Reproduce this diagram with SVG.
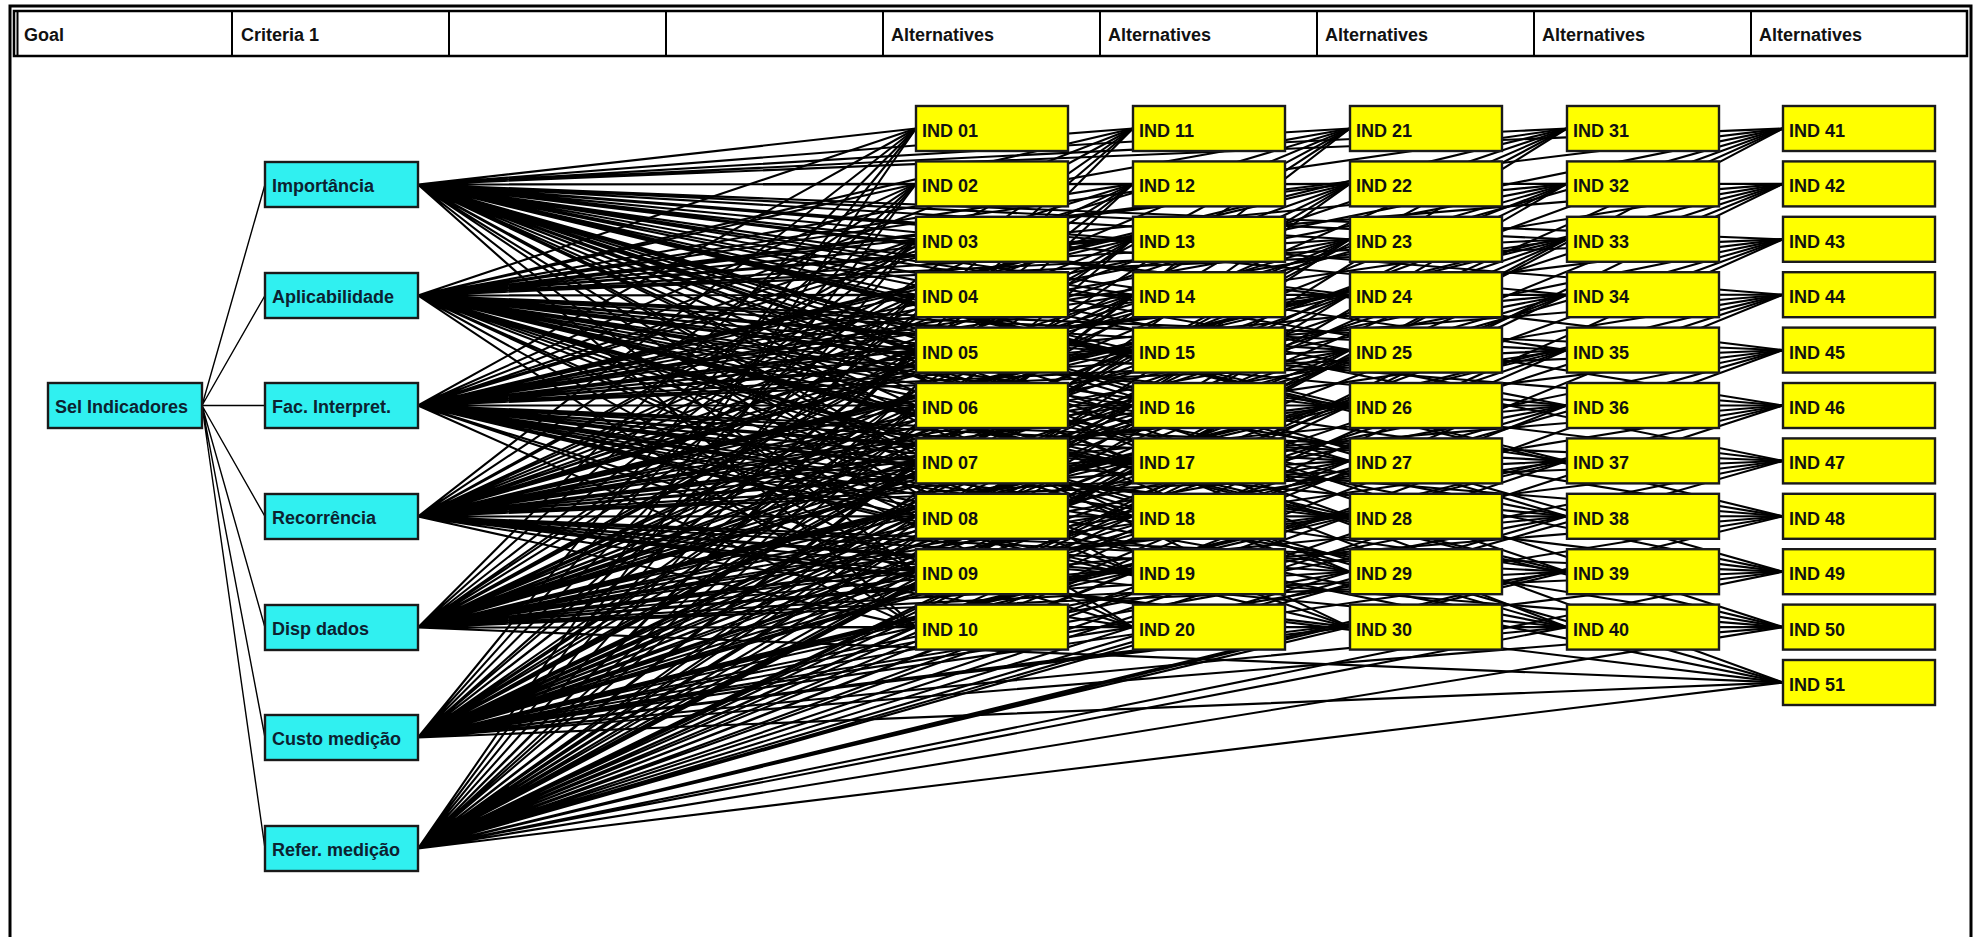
<svg xmlns="http://www.w3.org/2000/svg" width="1975" height="937" viewBox="0 0 1975 937">
<style>
.hdr{font-family:"Liberation Sans",Arial,sans-serif;font-weight:bold;font-size:18px;fill:#111}
.t{font-family:"Liberation Sans",Arial,sans-serif;font-weight:bold;font-size:18px;fill:#111}
.goal .t,.crit .t{fill:#0c2230}
.crit rect,.goal rect{fill:#30f0f0;stroke:#1a1a1a;stroke-width:2.4}
.alt rect{fill:#ffff00;stroke:#1a1a1a;stroke-width:2.4}
.edges path{fill:none;stroke:#000;stroke-width:2.1}
</style>
<rect width="1975" height="937" fill="#fff"/>
<!-- frame -->
<g id="frame" fill="none" stroke="#000">
<path d="M10 960V6H1971V960" stroke-width="3"/>
<rect x="14" y="11" width="1953" height="45" stroke-width="2.5"/>
<path d="M17.5 11V56M232 11V56M449 11V56M666 11V56M883 11V56M1100 11V56M1317 11V56M1534 11V56M1751 11V56" stroke-width="2"/>
</g>
<g id="header">
<text class="hdr" x="24" y="41">Goal</text>
<text class="hdr" x="241" y="41">Criteria 1</text>
<text class="hdr" x="891" y="41">Alternatives</text>
<text class="hdr" x="1108" y="41">Alternatives</text>
<text class="hdr" x="1325" y="41">Alternatives</text>
<text class="hdr" x="1542" y="41">Alternatives</text>
<text class="hdr" x="1759" y="41">Alternatives</text>
</g>
<g id="connectors" class="edges">
<path d="M202 405.5L265 184.5M202 405.5L265 295.5M202 405.5L265 405.5M202 405.5L265 516.5M202 405.5L265 627.5M202 405.5L265 737.5M202 405.5L265 848.5" style="stroke-width:1.4"/>
<path d="M418 184.5L916 128.5M418 184.5L916 183.9M418 184.5L916 239.3M418 184.5L916 294.7M418 184.5L916 350.1M418 184.5L916 405.5M418 184.5L916 460.9M418 184.5L916 516.3M418 184.5L916 571.7M418 184.5L916 627.1M418 184.5L1133 128.5M418 184.5L1133 183.9M418 184.5L1133 239.3M418 184.5L1133 294.7M418 184.5L1133 350.1M418 184.5L1133 405.5M418 184.5L1133 460.9M418 184.5L1133 516.3M418 184.5L1133 571.7M418 184.5L1133 627.1M418 184.5L1350 128.5M418 184.5L1350 183.9M418 184.5L1350 239.3M418 184.5L1350 294.7M418 184.5L1350 350.1M418 184.5L1350 405.5M418 184.5L1350 460.9M418 184.5L1350 516.3M418 184.5L1350 571.7M418 184.5L1350 627.1M418 184.5L1567 128.5M418 184.5L1567 183.9M418 184.5L1567 239.3M418 184.5L1567 294.7M418 184.5L1567 350.1M418 184.5L1567 405.5M418 184.5L1567 460.9M418 184.5L1567 516.3M418 184.5L1567 571.7M418 184.5L1567 627.1M418 184.5L1783 128.5M418 184.5L1783 183.9M418 184.5L1783 239.3M418 184.5L1783 294.7M418 184.5L1783 350.1M418 184.5L1783 405.5M418 184.5L1783 460.9M418 184.5L1783 516.3M418 184.5L1783 571.7M418 184.5L1783 627.1M418 184.5L1783 682.5"/>
<path d="M418 295.5L916 128.5M418 295.5L916 183.9M418 295.5L916 239.3M418 295.5L916 294.7M418 295.5L916 350.1M418 295.5L916 405.5M418 295.5L916 460.9M418 295.5L916 516.3M418 295.5L916 571.7M418 295.5L916 627.1M418 295.5L1133 128.5M418 295.5L1133 183.9M418 295.5L1133 239.3M418 295.5L1133 294.7M418 295.5L1133 350.1M418 295.5L1133 405.5M418 295.5L1133 460.9M418 295.5L1133 516.3M418 295.5L1133 571.7M418 295.5L1133 627.1M418 295.5L1350 128.5M418 295.5L1350 183.9M418 295.5L1350 239.3M418 295.5L1350 294.7M418 295.5L1350 350.1M418 295.5L1350 405.5M418 295.5L1350 460.9M418 295.5L1350 516.3M418 295.5L1350 571.7M418 295.5L1350 627.1M418 295.5L1567 128.5M418 295.5L1567 183.9M418 295.5L1567 239.3M418 295.5L1567 294.7M418 295.5L1567 350.1M418 295.5L1567 405.5M418 295.5L1567 460.9M418 295.5L1567 516.3M418 295.5L1567 571.7M418 295.5L1567 627.1M418 295.5L1783 128.5M418 295.5L1783 183.9M418 295.5L1783 239.3M418 295.5L1783 294.7M418 295.5L1783 350.1M418 295.5L1783 405.5M418 295.5L1783 460.9M418 295.5L1783 516.3M418 295.5L1783 571.7M418 295.5L1783 627.1M418 295.5L1783 682.5"/>
<path d="M418 405.5L916 128.5M418 405.5L916 183.9M418 405.5L916 239.3M418 405.5L916 294.7M418 405.5L916 350.1M418 405.5L916 405.5M418 405.5L916 460.9M418 405.5L916 516.3M418 405.5L916 571.7M418 405.5L916 627.1M418 405.5L1133 128.5M418 405.5L1133 183.9M418 405.5L1133 239.3M418 405.5L1133 294.7M418 405.5L1133 350.1M418 405.5L1133 405.5M418 405.5L1133 460.9M418 405.5L1133 516.3M418 405.5L1133 571.7M418 405.5L1133 627.1M418 405.5L1350 128.5M418 405.5L1350 183.9M418 405.5L1350 239.3M418 405.5L1350 294.7M418 405.5L1350 350.1M418 405.5L1350 405.5M418 405.5L1350 460.9M418 405.5L1350 516.3M418 405.5L1350 571.7M418 405.5L1350 627.1M418 405.5L1567 128.5M418 405.5L1567 183.9M418 405.5L1567 239.3M418 405.5L1567 294.7M418 405.5L1567 350.1M418 405.5L1567 405.5M418 405.5L1567 460.9M418 405.5L1567 516.3M418 405.5L1567 571.7M418 405.5L1567 627.1M418 405.5L1783 128.5M418 405.5L1783 183.9M418 405.5L1783 239.3M418 405.5L1783 294.7M418 405.5L1783 350.1M418 405.5L1783 405.5M418 405.5L1783 460.9M418 405.5L1783 516.3M418 405.5L1783 571.7M418 405.5L1783 627.1M418 405.5L1783 682.5"/>
<path d="M418 516.5L916 128.5M418 516.5L916 183.9M418 516.5L916 239.3M418 516.5L916 294.7M418 516.5L916 350.1M418 516.5L916 405.5M418 516.5L916 460.9M418 516.5L916 516.3M418 516.5L916 571.7M418 516.5L916 627.1M418 516.5L1133 128.5M418 516.5L1133 183.9M418 516.5L1133 239.3M418 516.5L1133 294.7M418 516.5L1133 350.1M418 516.5L1133 405.5M418 516.5L1133 460.9M418 516.5L1133 516.3M418 516.5L1133 571.7M418 516.5L1133 627.1M418 516.5L1350 128.5M418 516.5L1350 183.9M418 516.5L1350 239.3M418 516.5L1350 294.7M418 516.5L1350 350.1M418 516.5L1350 405.5M418 516.5L1350 460.9M418 516.5L1350 516.3M418 516.5L1350 571.7M418 516.5L1350 627.1M418 516.5L1567 128.5M418 516.5L1567 183.9M418 516.5L1567 239.3M418 516.5L1567 294.7M418 516.5L1567 350.1M418 516.5L1567 405.5M418 516.5L1567 460.9M418 516.5L1567 516.3M418 516.5L1567 571.7M418 516.5L1567 627.1M418 516.5L1783 128.5M418 516.5L1783 183.9M418 516.5L1783 239.3M418 516.5L1783 294.7M418 516.5L1783 350.1M418 516.5L1783 405.5M418 516.5L1783 460.9M418 516.5L1783 516.3M418 516.5L1783 571.7M418 516.5L1783 627.1M418 516.5L1783 682.5"/>
<path d="M418 627.5L916 128.5M418 627.5L916 183.9M418 627.5L916 239.3M418 627.5L916 294.7M418 627.5L916 350.1M418 627.5L916 405.5M418 627.5L916 460.9M418 627.5L916 516.3M418 627.5L916 571.7M418 627.5L916 627.1M418 627.5L1133 128.5M418 627.5L1133 183.9M418 627.5L1133 239.3M418 627.5L1133 294.7M418 627.5L1133 350.1M418 627.5L1133 405.5M418 627.5L1133 460.9M418 627.5L1133 516.3M418 627.5L1133 571.7M418 627.5L1133 627.1M418 627.5L1350 128.5M418 627.5L1350 183.9M418 627.5L1350 239.3M418 627.5L1350 294.7M418 627.5L1350 350.1M418 627.5L1350 405.5M418 627.5L1350 460.9M418 627.5L1350 516.3M418 627.5L1350 571.7M418 627.5L1350 627.1M418 627.5L1567 128.5M418 627.5L1567 183.9M418 627.5L1567 239.3M418 627.5L1567 294.7M418 627.5L1567 350.1M418 627.5L1567 405.5M418 627.5L1567 460.9M418 627.5L1567 516.3M418 627.5L1567 571.7M418 627.5L1567 627.1M418 627.5L1783 128.5M418 627.5L1783 183.9M418 627.5L1783 239.3M418 627.5L1783 294.7M418 627.5L1783 350.1M418 627.5L1783 405.5M418 627.5L1783 460.9M418 627.5L1783 516.3M418 627.5L1783 571.7M418 627.5L1783 627.1M418 627.5L1783 682.5"/>
<path d="M418 737.5L916 128.5M418 737.5L916 183.9M418 737.5L916 239.3M418 737.5L916 294.7M418 737.5L916 350.1M418 737.5L916 405.5M418 737.5L916 460.9M418 737.5L916 516.3M418 737.5L916 571.7M418 737.5L916 627.1M418 737.5L1133 128.5M418 737.5L1133 183.9M418 737.5L1133 239.3M418 737.5L1133 294.7M418 737.5L1133 350.1M418 737.5L1133 405.5M418 737.5L1133 460.9M418 737.5L1133 516.3M418 737.5L1133 571.7M418 737.5L1133 627.1M418 737.5L1350 128.5M418 737.5L1350 183.9M418 737.5L1350 239.3M418 737.5L1350 294.7M418 737.5L1350 350.1M418 737.5L1350 405.5M418 737.5L1350 460.9M418 737.5L1350 516.3M418 737.5L1350 571.7M418 737.5L1350 627.1M418 737.5L1567 128.5M418 737.5L1567 183.9M418 737.5L1567 239.3M418 737.5L1567 294.7M418 737.5L1567 350.1M418 737.5L1567 405.5M418 737.5L1567 460.9M418 737.5L1567 516.3M418 737.5L1567 571.7M418 737.5L1567 627.1M418 737.5L1783 128.5M418 737.5L1783 183.9M418 737.5L1783 239.3M418 737.5L1783 294.7M418 737.5L1783 350.1M418 737.5L1783 405.5M418 737.5L1783 460.9M418 737.5L1783 516.3M418 737.5L1783 571.7M418 737.5L1783 627.1M418 737.5L1783 682.5"/>
<path d="M418 848.5L916 128.5M418 848.5L916 183.9M418 848.5L916 239.3M418 848.5L916 294.7M418 848.5L916 350.1M418 848.5L916 405.5M418 848.5L916 460.9M418 848.5L916 516.3M418 848.5L916 571.7M418 848.5L916 627.1M418 848.5L1133 128.5M418 848.5L1133 183.9M418 848.5L1133 239.3M418 848.5L1133 294.7M418 848.5L1133 350.1M418 848.5L1133 405.5M418 848.5L1133 460.9M418 848.5L1133 516.3M418 848.5L1133 571.7M418 848.5L1133 627.1M418 848.5L1350 128.5M418 848.5L1350 183.9M418 848.5L1350 239.3M418 848.5L1350 294.7M418 848.5L1350 350.1M418 848.5L1350 405.5M418 848.5L1350 460.9M418 848.5L1350 516.3M418 848.5L1350 571.7M418 848.5L1350 627.1M418 848.5L1567 128.5M418 848.5L1567 183.9M418 848.5L1567 239.3M418 848.5L1567 294.7M418 848.5L1567 350.1M418 848.5L1567 405.5M418 848.5L1567 460.9M418 848.5L1567 516.3M418 848.5L1567 571.7M418 848.5L1567 627.1M418 848.5L1783 128.5M418 848.5L1783 183.9M418 848.5L1783 239.3M418 848.5L1783 294.7M418 848.5L1783 350.1M418 848.5L1783 405.5M418 848.5L1783 460.9M418 848.5L1783 516.3M418 848.5L1783 571.7M418 848.5L1783 627.1M418 848.5L1783 682.5"/>
</g>
<g id="goal" class="goal"><rect x="48" y="383" width="154" height="45"/><text class="t" x="55" y="413">Sel Indicadores</text></g>
<g id="crit-importancia" class="crit"><rect x="265" y="162" width="153" height="45"/><text class="t" x="272" y="192">Importância</text></g>
<g id="crit-aplicabilidade" class="crit"><rect x="265" y="273" width="153" height="45"/><text class="t" x="272" y="303">Aplicabilidade</text></g>
<g id="crit-fac" class="crit"><rect x="265" y="383" width="153" height="45"/><text class="t" x="272" y="413">Fac. Interpret.</text></g>
<g id="crit-recorrencia" class="crit"><rect x="265" y="494" width="153" height="45"/><text class="t" x="272" y="524">Recorrência</text></g>
<g id="crit-disp" class="crit"><rect x="265" y="605" width="153" height="45"/><text class="t" x="272" y="635">Disp dados</text></g>
<g id="crit-custo" class="crit"><rect x="265" y="715" width="153" height="45"/><text class="t" x="272" y="745">Custo medição</text></g>
<g id="crit-refer" class="crit"><rect x="265" y="826" width="153" height="45"/><text class="t" x="272" y="856">Refer. medição</text></g>
<g id="ind01" class="alt"><rect x="916" y="106" width="152" height="45"/><text class="t" x="922" y="137">IND 01</text></g>
<g id="ind02" class="alt"><rect x="916" y="161.4" width="152" height="45"/><text class="t" x="922" y="192.4">IND 02</text></g>
<g id="ind03" class="alt"><rect x="916" y="216.8" width="152" height="45"/><text class="t" x="922" y="247.8">IND 03</text></g>
<g id="ind04" class="alt"><rect x="916" y="272.2" width="152" height="45"/><text class="t" x="922" y="303.2">IND 04</text></g>
<g id="ind05" class="alt"><rect x="916" y="327.6" width="152" height="45"/><text class="t" x="922" y="358.6">IND 05</text></g>
<g id="ind06" class="alt"><rect x="916" y="383" width="152" height="45"/><text class="t" x="922" y="414">IND 06</text></g>
<g id="ind07" class="alt"><rect x="916" y="438.4" width="152" height="45"/><text class="t" x="922" y="469.4">IND 07</text></g>
<g id="ind08" class="alt"><rect x="916" y="493.8" width="152" height="45"/><text class="t" x="922" y="524.8">IND 08</text></g>
<g id="ind09" class="alt"><rect x="916" y="549.2" width="152" height="45"/><text class="t" x="922" y="580.2">IND 09</text></g>
<g id="ind10" class="alt"><rect x="916" y="604.6" width="152" height="45"/><text class="t" x="922" y="635.6">IND 10</text></g>
<g id="ind11" class="alt"><rect x="1133" y="106" width="152" height="45"/><text class="t" x="1139" y="137">IND 11</text></g>
<g id="ind12" class="alt"><rect x="1133" y="161.4" width="152" height="45"/><text class="t" x="1139" y="192.4">IND 12</text></g>
<g id="ind13" class="alt"><rect x="1133" y="216.8" width="152" height="45"/><text class="t" x="1139" y="247.8">IND 13</text></g>
<g id="ind14" class="alt"><rect x="1133" y="272.2" width="152" height="45"/><text class="t" x="1139" y="303.2">IND 14</text></g>
<g id="ind15" class="alt"><rect x="1133" y="327.6" width="152" height="45"/><text class="t" x="1139" y="358.6">IND 15</text></g>
<g id="ind16" class="alt"><rect x="1133" y="383" width="152" height="45"/><text class="t" x="1139" y="414">IND 16</text></g>
<g id="ind17" class="alt"><rect x="1133" y="438.4" width="152" height="45"/><text class="t" x="1139" y="469.4">IND 17</text></g>
<g id="ind18" class="alt"><rect x="1133" y="493.8" width="152" height="45"/><text class="t" x="1139" y="524.8">IND 18</text></g>
<g id="ind19" class="alt"><rect x="1133" y="549.2" width="152" height="45"/><text class="t" x="1139" y="580.2">IND 19</text></g>
<g id="ind20" class="alt"><rect x="1133" y="604.6" width="152" height="45"/><text class="t" x="1139" y="635.6">IND 20</text></g>
<g id="ind21" class="alt"><rect x="1350" y="106" width="152" height="45"/><text class="t" x="1356" y="137">IND 21</text></g>
<g id="ind22" class="alt"><rect x="1350" y="161.4" width="152" height="45"/><text class="t" x="1356" y="192.4">IND 22</text></g>
<g id="ind23" class="alt"><rect x="1350" y="216.8" width="152" height="45"/><text class="t" x="1356" y="247.8">IND 23</text></g>
<g id="ind24" class="alt"><rect x="1350" y="272.2" width="152" height="45"/><text class="t" x="1356" y="303.2">IND 24</text></g>
<g id="ind25" class="alt"><rect x="1350" y="327.6" width="152" height="45"/><text class="t" x="1356" y="358.6">IND 25</text></g>
<g id="ind26" class="alt"><rect x="1350" y="383" width="152" height="45"/><text class="t" x="1356" y="414">IND 26</text></g>
<g id="ind27" class="alt"><rect x="1350" y="438.4" width="152" height="45"/><text class="t" x="1356" y="469.4">IND 27</text></g>
<g id="ind28" class="alt"><rect x="1350" y="493.8" width="152" height="45"/><text class="t" x="1356" y="524.8">IND 28</text></g>
<g id="ind29" class="alt"><rect x="1350" y="549.2" width="152" height="45"/><text class="t" x="1356" y="580.2">IND 29</text></g>
<g id="ind30" class="alt"><rect x="1350" y="604.6" width="152" height="45"/><text class="t" x="1356" y="635.6">IND 30</text></g>
<g id="ind31" class="alt"><rect x="1567" y="106" width="152" height="45"/><text class="t" x="1573" y="137">IND 31</text></g>
<g id="ind32" class="alt"><rect x="1567" y="161.4" width="152" height="45"/><text class="t" x="1573" y="192.4">IND 32</text></g>
<g id="ind33" class="alt"><rect x="1567" y="216.8" width="152" height="45"/><text class="t" x="1573" y="247.8">IND 33</text></g>
<g id="ind34" class="alt"><rect x="1567" y="272.2" width="152" height="45"/><text class="t" x="1573" y="303.2">IND 34</text></g>
<g id="ind35" class="alt"><rect x="1567" y="327.6" width="152" height="45"/><text class="t" x="1573" y="358.6">IND 35</text></g>
<g id="ind36" class="alt"><rect x="1567" y="383" width="152" height="45"/><text class="t" x="1573" y="414">IND 36</text></g>
<g id="ind37" class="alt"><rect x="1567" y="438.4" width="152" height="45"/><text class="t" x="1573" y="469.4">IND 37</text></g>
<g id="ind38" class="alt"><rect x="1567" y="493.8" width="152" height="45"/><text class="t" x="1573" y="524.8">IND 38</text></g>
<g id="ind39" class="alt"><rect x="1567" y="549.2" width="152" height="45"/><text class="t" x="1573" y="580.2">IND 39</text></g>
<g id="ind40" class="alt"><rect x="1567" y="604.6" width="152" height="45"/><text class="t" x="1573" y="635.6">IND 40</text></g>
<g id="ind41" class="alt"><rect x="1783" y="106" width="152" height="45"/><text class="t" x="1789" y="137">IND 41</text></g>
<g id="ind42" class="alt"><rect x="1783" y="161.4" width="152" height="45"/><text class="t" x="1789" y="192.4">IND 42</text></g>
<g id="ind43" class="alt"><rect x="1783" y="216.8" width="152" height="45"/><text class="t" x="1789" y="247.8">IND 43</text></g>
<g id="ind44" class="alt"><rect x="1783" y="272.2" width="152" height="45"/><text class="t" x="1789" y="303.2">IND 44</text></g>
<g id="ind45" class="alt"><rect x="1783" y="327.6" width="152" height="45"/><text class="t" x="1789" y="358.6">IND 45</text></g>
<g id="ind46" class="alt"><rect x="1783" y="383" width="152" height="45"/><text class="t" x="1789" y="414">IND 46</text></g>
<g id="ind47" class="alt"><rect x="1783" y="438.4" width="152" height="45"/><text class="t" x="1789" y="469.4">IND 47</text></g>
<g id="ind48" class="alt"><rect x="1783" y="493.8" width="152" height="45"/><text class="t" x="1789" y="524.8">IND 48</text></g>
<g id="ind49" class="alt"><rect x="1783" y="549.2" width="152" height="45"/><text class="t" x="1789" y="580.2">IND 49</text></g>
<g id="ind50" class="alt"><rect x="1783" y="604.6" width="152" height="45"/><text class="t" x="1789" y="635.6">IND 50</text></g>
<g id="ind51" class="alt"><rect x="1783" y="660" width="152" height="45"/><text class="t" x="1789" y="691">IND 51</text></g>
</svg>
